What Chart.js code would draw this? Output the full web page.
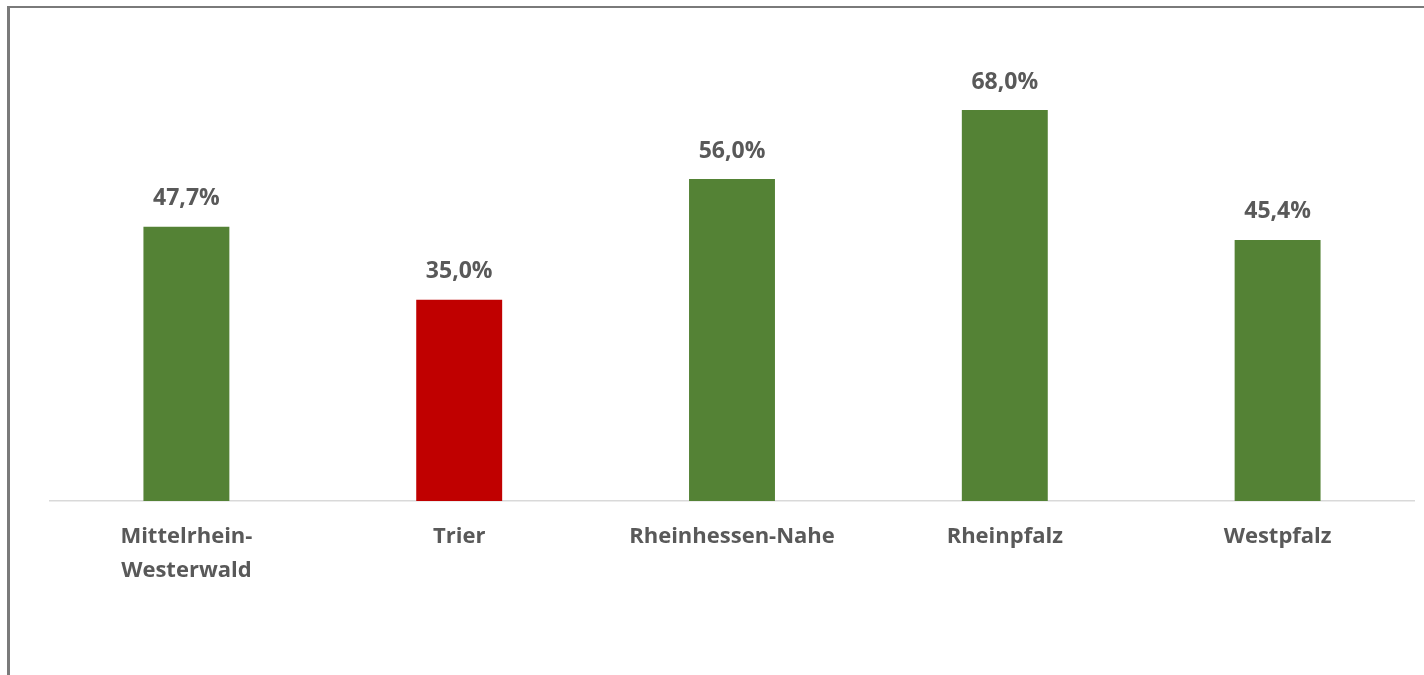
<!DOCTYPE html>
<html>
<head>
<meta charset="utf-8">
<script src="https://cdn.jsdelivr.net/npm/chart.js@4"></script>
<style>
  html, body { margin: 0; padding: 0; background: #ffffff; }
  #wrap { position: relative; width: 1424px; height: 675px; overflow: hidden; }
  #frame { position: absolute; left: 7px; top: 6px; right: 0; bottom: 0;
           border-top: 2px solid #7a7a7a; border-left: 3px solid #7a7a7a; pointer-events: none; }
  canvas { position: absolute; left: 0; top: 0; }
</style>
</head>
<body>
<div id="wrap">
  <canvas id="c" width="1424" height="675"></canvas>
  <div id="frame"></div>
</div>
<script>
const categories = [["Mittelrhein-", "Westerwald"], "Trier", "Rheinhessen-Nahe", "Rheinpfalz", "Westpfalz"];
const values = [47.7, 35.0, 56.0, 68.0, 45.4];
const barColors = ["#548235", "#C00000", "#548235", "#548235", "#548235"];

const textColor = "#595959";
const fontFamily = "'Open Sans', 'DejaVu Sans', sans-serif";

const valueLabels = {
  id: "valueLabels",
  afterDatasetsDraw(chart) {
    const ctx = chart.ctx;
    const meta = chart.getDatasetMeta(0);
    ctx.save();
    ctx.font = "bold 23px " + fontFamily;
    ctx.fillStyle = textColor;
    ctx.textAlign = "center";
    ctx.textBaseline = "middle";
    meta.data.forEach((bar, i) => {
      const txt = values[i].toFixed(1).replace(".", ",") + "%";
      ctx.fillText(txt, bar.x, bar.y - 28);
    });
    ctx.restore();
  }
};

new Chart(document.getElementById("c"), {
  type: "bar",
  data: {
    labels: categories,
    datasets: [{
      data: values,
      backgroundColor: barColors,
      borderWidth: 0,
      categoryPercentage: 1.0,
      barPercentage: 0.315
    }]
  },
  options: {
    responsive: false,
    animation: false,
    layout: { padding: { left: 50, right: 10, top: 41, bottom: 0 } },
    plugins: { legend: { display: false }, tooltip: { enabled: false } },
    scales: {
      x: {
        grid: { display: false, drawTicks: false },
        border: { display: true, color: "#d9d9d9", width: 1.5 },
        ticks: {
          color: textColor,
          padding: 19,
          maxRotation: 0,
          autoSkip: false,
          font: { family: fontFamily, size: 22, weight: "bold", lineHeight: 1.545 }
        },
        afterFit(scale) { scale.height = 174; }
      },
      y: {
        display: false,
        min: 0,
        max: 80
      }
    }
  },
  plugins: [valueLabels]
});
</script>
</body>
</html>
